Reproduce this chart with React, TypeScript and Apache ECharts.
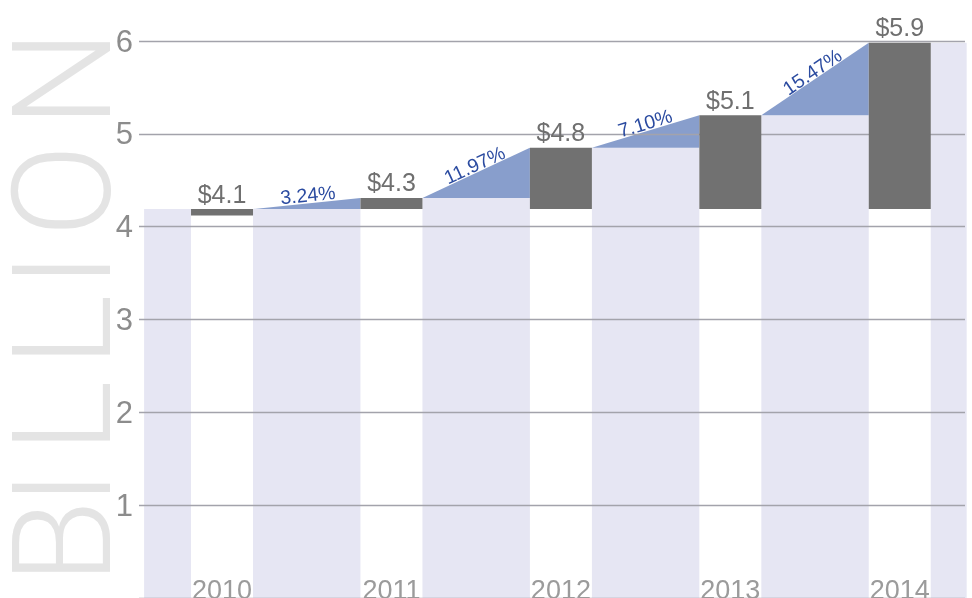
import React, { useEffect, useRef } from "react";
import * as echarts from "echarts";

// ---- data ----
const years = ["2010", "2011", "2012", "2013", "2014"];
const barTops = [4.19, 4.31, 4.85, 5.2, 5.98];
const barBottoms = [4.12, 4.19, 4.19, 4.19, 4.19];
const valueLabels = ["$4.1", "$4.3", "$4.8", "$5.1", "$5.9"];
const growthLabels = ["", "3.24%", "11.97%", "7.10%", "15.47%"];
const yMin = 0;
const yMax = 6;
const yInterval = 1;
const unitWord = ["B", "I", "L", "L", "I", "O", "N"];

// ---- layout / style ----
const X_MIN = -0.49;
const X_MAX = 4.385;
const BAND_START = -0.46;
const BAND_END = 4.395;
const HALF = 31;
const FONT = "'Liberation Sans', Arial, sans-serif";
const BIG_FONT = "Roboto, 'Liberation Sans', sans-serif";
const LAVENDER = "#e6e6f3";
const BLUE = "#889ecc";
const DARK = "#717171";
const PCT = "#2b4ba0";
const letterY = [542, 488, 416.5, 330.5, 270, 190.5, 78.5];

export default function App() {
  const ref = useRef<HTMLDivElement>(null);
  useEffect(() => {
    if (!ref.current) return;
    const chart = echarts.init(ref.current, undefined, { renderer: "svg" });
    const data = years.map((_, i) => [
      i,
      barTops[i],
      barBottoms[i],
      i > 0 ? barTops[i - 1] : barTops[0],
    ]);
    const last = years.length - 1;

    const bgRender = (params: any, api: any) => {
      const i = api.value(0);
      const top = api.value(1);
      const prevTop = api.value(3);
      const c = api.coord([i, 0]);
      const cx = c[0];
      const y0 = c[1];
      const leftEdge =
        i === 0 ? api.coord([BAND_START, 0])[0] : api.coord([i - 1, 0])[0] + HALF;
      const colLeft = cx - HALF;
      const yPrev = api.coord([i, prevTop])[1];
      const yTop = api.coord([i, top])[1];
      const children: any[] = [
        {
          type: "rect",
          shape: { x: leftEdge, y: yPrev, width: colLeft - leftEdge, height: y0 - yPrev },
          style: { fill: LAVENDER },
        },
      ];
      if (i > 0) {
        children.push({
          type: "polygon",
          shape: { points: [[leftEdge, yPrev], [colLeft, yTop], [colLeft, yPrev]] },
          style: { fill: BLUE },
        });
      }
      if (i === last) {
        const endX = api.coord([BAND_END, 0])[0];
        children.push({
          type: "rect",
          shape: { x: cx + HALF, y: yTop, width: endX - cx - HALF, height: y0 - yTop },
          style: { fill: LAVENDER },
        });
      }
      return { type: "group", children };
    };

    const fgRender = (params: any, api: any) => {
      const i = api.value(0);
      const top = api.value(1);
      const bottom = api.value(2);
      const prevTop = api.value(3);
      const c = api.coord([i, 0]);
      const cx = c[0];
      const yTop = api.coord([i, top])[1];
      const yBot = api.coord([i, bottom])[1];
      const children: any[] = [
        {
          type: "rect",
          shape: { x: cx - HALF, y: yTop, width: HALF * 2, height: yBot - yTop },
          style: { fill: DARK },
        },
        {
          type: "text",
          x: cx,
          y: yTop - 15.5,
          style: {
            text: valueLabels[i],
            fill: "#6f6f6f",
            fontSize: 25,
            fontFamily: FONT,
            align: "center",
            verticalAlign: "middle",
          },
        },
        {
          type: "text",
          x: cx,
          y: 589.6,
          style: {
            text: years[i],
            fill: "#9b9b9b",
            fontSize: 27,
            fontFamily: FONT,
            align: "center",
            verticalAlign: "middle",
          },
        },
      ];
      if (i > 0) {
        const leftEdge = api.coord([i - 1, 0])[0] + HALF;
        const colLeft = cx - HALF;
        const yPrev = api.coord([i, prevTop])[1];
        const a = Math.atan2(yPrev - yTop, colLeft - leftEdge);
        const mx = (leftEdge + colLeft) / 2;
        const my = (yPrev + yTop) / 2;
        const d = 9;
        children.push({
          type: "text",
          x: mx - Math.sin(a) * d + 2,
          y: my - Math.cos(a) * d,
          rotation: a,
          style: {
            text: growthLabels[i],
            fill: PCT,
            fontSize: 19.5,
            fontFamily: FONT,
            align: "center",
            verticalAlign: "middle",
          },
        });
      }
      return { type: "group", children };
    };

    chart.setOption({
      animation: false,
      grid: { left: 139, right: 7, top: 41, bottom: -1 },
      xAxis: {
        type: "value",
        min: X_MIN,
        max: X_MAX,
        show: false,
        splitLine: { show: false },
      },
      yAxis: {
        type: "value",
        min: yMin,
        max: yMax,
        interval: yInterval,
        z: 2,
        axisLine: { show: false },
        axisTick: { show: false },
        axisLabel: {
          showMinLabel: false,
          fontSize: 31,
          fontFamily: FONT,
          color: "#8c8c8c",
          margin: 6,
        },
        splitLine: { lineStyle: { color: "#a3a3ab", width: 1.3 } },
      },
      graphic: unitWord.map((ch, k) => ({
        type: "text",
        x: 63,
        y: letterY[k],
        rotation: Math.PI / 2,
        z: -10,
        style: {
          text: ch,
          fill: "#e4e4e4",
          fontSize: 137,
          fontFamily: BIG_FONT,
          fontWeight: 300,
          align: "center",
          verticalAlign: "middle",
        },
      })),
      series: [
        {
          type: "custom",
          z: 1,
          clip: false,
          renderItem: bgRender,
          data,
          encode: { x: 0, y: 1 },
        },
        {
          type: "custom",
          z: 3,
          clip: false,
          renderItem: fgRender,
          data,
          encode: { x: 0, y: 1 },
        },
      ],
    });
    return () => chart.dispose();
  }, []);
  return (
    <div
      ref={ref}
      style={{ position: "fixed", left: 0, top: 0, width: 972, height: 598 }}
    />
  );
}
